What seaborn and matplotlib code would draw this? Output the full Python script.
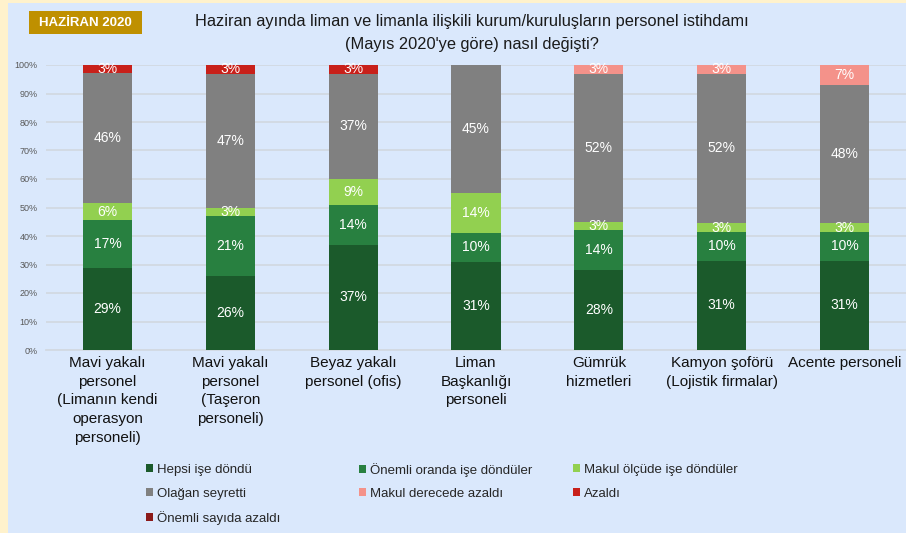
import numpy as np
import matplotlib
matplotlib.use("Agg")
import matplotlib.pyplot as plt
from matplotlib.patches import Patch, Rectangle
import seaborn as sns

# categories (x axis)
groups = [
    "Mavi yakalı\npersonel\n(Limanın kendi\noperasyon\npersoneli)",
    "Mavi yakalı\npersonel\n(Taşeron\npersoneli)",
    "Beyaz yakalı\npersonel (ofis)",
    "Liman\nBaşkanlığı\npersoneli",
    "Gümrük\nhizmetleri",
    "Kamyon şoförü\n(Lojistik firmalar)",
    "Acente personeli",
]

# answer shares (%) per category, bottom to top
hepsi = [29, 26, 37, 31, 28, 31, 31]
onemli_oranda = [17, 21, 14, 10, 14, 10, 10]
makul_olcude = [6, 3, 9, 14, 3, 3, 3]
olagan = [46, 47, 37, 45, 52, 52, 48]
makul_azaldi = [0, 0, 0, 0, 3, 3, 7]
azaldi = [3, 3, 3, 0, 0, 0, 0]
onemli_azaldi = [0, 0, 0, 0, 0, 0, 0]

series = [
    ("Hepsi işe döndü", hepsi, "#1B5A2B"),
    ("Önemli oranda işe döndüler", onemli_oranda, "#288040"),
    ("Makul ölçüde işe döndüler", makul_olcude, "#92D050"),
    ("Olağan seyretti", olagan, "#808080"),
    ("Makul derecede azaldı", makul_azaldi, "#F4928A"),
    ("Azaldı", azaldi, "#C8201A"),
    ("Önemli sayıda azaldı", onemli_azaldi, "#8B1A1A"),
]

BG = "#DAE8FC"
sns.set_style("white")
plt.rcParams["font.family"] = ["Liberation Sans", "DejaVu Sans"]

fig = plt.figure(figsize=(9.06, 5.33), dpi=100, facecolor="#FFF2CC")
fig.patches.append(Rectangle((8 / 906, 0), 1, 530 / 533, transform=fig.transFigure,
                             facecolor=BG, edgecolor="none", zorder=-5))
ax = fig.add_axes([46 / 906, 183 / 533, 860 / 906, 285 / 533])
ax.set_facecolor(BG)

# 100% stacked: normalise each column by its total
totals = np.sum([np.array(v, dtype=float) for _, v, _ in series], axis=0)
bottom = np.zeros(len(groups))
for name, vals, col in series:
    share = np.array(vals, dtype=float) / totals
    sns.barplot(x=groups, y=share, bottom=bottom, color=col, width=0.4,
                errorbar=None, linewidth=0, saturation=1, ax=ax, zorder=3)
    labels = [f"{v}%" if v > 0 else "" for v in vals]
    texts = ax.bar_label(ax.containers[-1], labels=labels, label_type="center",
                         color="white", fontsize=10)
    for t in texts:
        t.set_zorder(10)
    bottom = bottom + share

ax.set_xlim(-0.5, 6.5)
ax.set_ylim(0, 1)
ax.set_yticks(np.arange(0, 1.01, 0.1))
ax.set_yticklabels([f"{int(round(t * 100))}%" for t in np.arange(0, 1.01, 0.1)])
ax.yaxis.grid(True, color="#D2D9E2", linewidth=1.3, zorder=0)
ax.set_axisbelow(True)
ax.tick_params(axis="y", length=0, pad=6, labelsize=6.5, labelcolor="#595959")
ax.tick_params(axis="x", length=0, pad=4, labelsize=11, labelcolor="#111111")
for lab in ax.get_xticklabels():
    lab.set_linespacing(1.45)
ax.set_xlabel("")
ax.set_ylabel("")
for s in ["top", "right", "left"]:
    ax.spines[s].set_visible(False)
ax.spines["bottom"].set_color("#D2D9E2")
ax.spines["bottom"].set_linewidth(1.3)

# title and tag
fig.text(0.521, 0.938,
         "Haziran ayında liman ve limanla ilişkili kurum/kuruluşların personel istihdamı\n"
         "(Mayıs 2020'ye göre) nasıl değişti?",
         ha="center", va="center", fontsize=11.8, linespacing=1.7, color="#1a1a1a")
fig.patches.append(Rectangle((29 / 906, 499 / 533), 113 / 906, 23 / 533,
                             transform=fig.transFigure, facecolor="#BF9000",
                             edgecolor="none", zorder=1))
fig.text(85.5 / 906, 510.5 / 533, "HAZİRAN 2020", ha="center", va="center",
         fontsize=9.5, fontweight="bold", color="white")

# legend: fixed grid like the original (3 columns, filled row by row)
handles = [Patch(facecolor=c, edgecolor="none", label=n) for n, _, c in series]
col_x = [146 / 906, 359 / 906, 573 / 906]
row_y = [(533 - 470) / 533, (533 - 494) / 533, (533 - 518) / 533]
for i, h in enumerate(handles):
    fig.legend(handles=[h], loc="center left",
               bbox_to_anchor=(col_x[i % 3], row_y[i // 3]), frameon=False,
               fontsize=9.5, handlelength=0.55, handleheight=0.55,
               handletextpad=0.3, borderpad=0, borderaxespad=0)

fig.savefig("out.png", dpi=100, facecolor=fig.get_facecolor())
